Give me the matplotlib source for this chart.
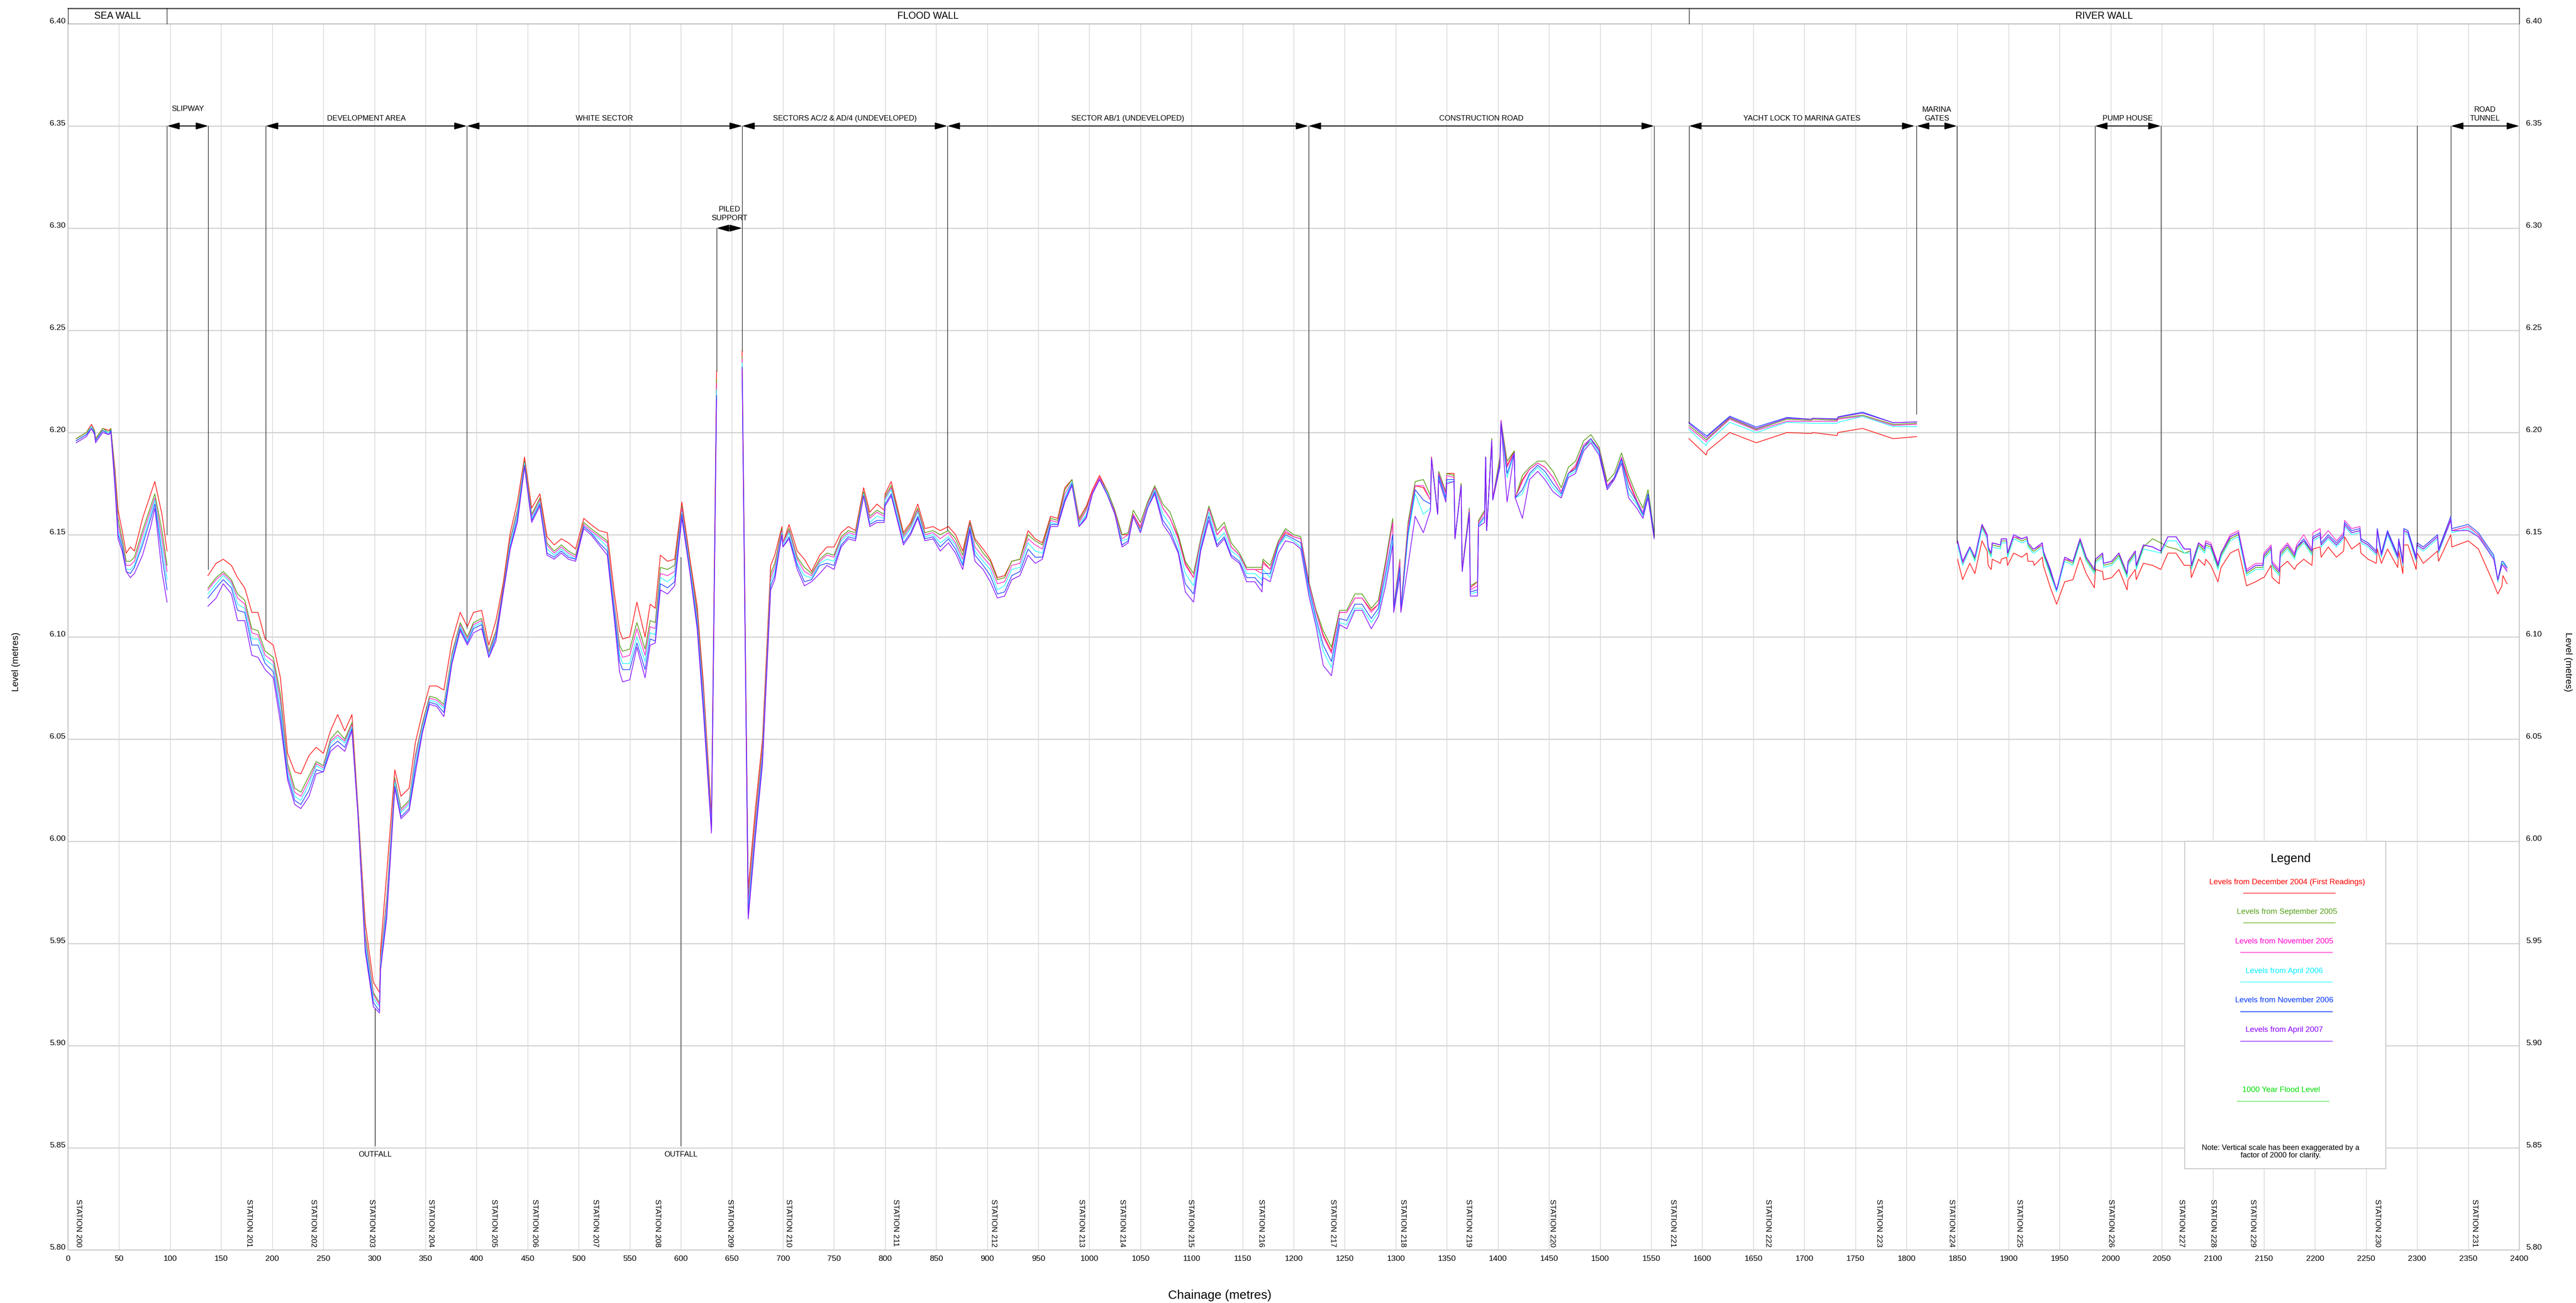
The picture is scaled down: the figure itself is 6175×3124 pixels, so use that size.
import numpy as np
import matplotlib
matplotlib.use("Agg")
import matplotlib.pyplot as plt
from matplotlib.patches import Rectangle
from matplotlib.transforms import ScaledTranslation

plt.rcParams['font.family'] = ['Liberation Sans', 'DejaVu Sans']

### Data ###
# survey labels / colours
surveys = ['Levels from December 2004 (First Readings)', 'Levels from September 2005',
           'Levels from November 2005', 'Levels from April 2006',
           'Levels from November 2006', 'Levels from April 2007']
line_colors = ['#ff2020', '#5a9e1a', '#ff33cc', '#33ffff', '#2a50ff', '#8c1aff']
text_colors = ['#ff0000', '#55a01a', '#ff00cc', '#00eeff', '#0033ff', '#8800ff']
legend_line_colors = ['#ff6666', '#99cc66', '#ff66dd', '#77ffff', '#4466ff', '#b366ff']

# segment A: sea wall
a_ch = [8, 18, 23, 26, 27, 34, 40, 42, 46, 49, 53, 57, 61, 65, 73, 81, 85, 92, 97]
a_dec04 = [6.197, 6.200, 6.204, 6.201, 6.197, 6.202, 6.201, 6.202, 6.182, 6.162, 6.152, 6.141, 6.144, 6.142, 6.158, 6.170, 6.176, 6.160, 6.142]
a_sep05 = [6.197, 6.200, 6.203, 6.201, 6.197, 6.202, 6.200, 6.202, 6.180, 6.158, 6.148, 6.137, 6.137, 6.139, 6.152, 6.164, 6.170, 6.152, 6.135]
a_nov05 = [6.196, 6.199, 6.203, 6.200, 6.196, 6.201, 6.200, 6.201, 6.178, 6.155, 6.146, 6.135, 6.135, 6.137, 6.150, 6.162, 6.168, 6.148, 6.132]
a_apr06 = [6.196, 6.199, 6.203, 6.200, 6.196, 6.201, 6.200, 6.201, 6.176, 6.152, 6.145, 6.133, 6.133, 6.135, 6.147, 6.160, 6.167, 6.144, 6.128]
a_nov06 = [6.196, 6.199, 6.202, 6.200, 6.196, 6.201, 6.199, 6.201, 6.175, 6.150, 6.144, 6.132, 6.131, 6.134, 6.145, 6.158, 6.165, 6.140, 6.123]
a_apr07 = [6.195, 6.198, 6.202, 6.199, 6.195, 6.200, 6.199, 6.200, 6.173, 6.148, 6.142, 6.132, 6.129, 6.131, 6.140, 6.154, 6.163, 6.132, 6.117]

# segment B: slipway to piled support
b_ch = [137, 145, 152, 160, 166, 173, 180, 186, 193, 201,
        208, 215, 222, 228, 236, 243, 250, 257, 264, 271,
        278, 284, 291, 299, 305, 306, 312, 320, 326, 334,
        340, 347, 354, 361, 368, 376, 384, 391, 397, 405,
        412, 419, 426, 433, 440, 447, 454, 462, 469, 476,
        483, 490, 497, 505, 512, 520, 528, 535, 540, 543,
        550, 557, 565, 570, 575, 580, 587, 594, 601, 609,
        616, 622, 630, 635]
b_dec04 = [6.130, 6.136, 6.138, 6.135, 6.129, 6.124, 6.112, 6.112, 6.099, 6.096,
           6.080, 6.043, 6.034, 6.033, 6.042, 6.046, 6.043, 6.054, 6.062, 6.054,
           6.062, 6.016, 5.960, 5.931, 5.926, 5.947, 5.984, 6.035, 6.022, 6.026,
           6.048, 6.063, 6.076, 6.076, 6.074, 6.098, 6.112, 6.105, 6.112, 6.113,
           6.096, 6.108, 6.126, 6.151, 6.166, 6.188, 6.163, 6.170, 6.149, 6.145,
           6.148, 6.146, 6.143, 6.158, 6.155, 6.152, 6.151, 6.121, 6.103, 6.099,
           6.100, 6.117, 6.100, 6.116, 6.114, 6.140, 6.137, 6.138, 6.166, 6.138,
           6.115, 6.078, 6.013, 6.230]
b_sep05 = [6.124, 6.129, 6.132, 6.128, 6.121, 6.118, 6.104, 6.103, 6.093, 6.090,
           6.072, 6.038, 6.026, 6.024, 6.032, 6.039, 6.037, 6.050, 6.054, 6.050,
           6.058, 6.015, 5.955, 5.926, 5.921, 5.943, 5.972, 6.031, 6.016, 6.020,
           6.042, 6.058, 6.071, 6.070, 6.067, 6.092, 6.107, 6.100, 6.107, 6.109,
           6.093, 6.103, 6.124, 6.148, 6.162, 6.186, 6.160, 6.168, 6.146, 6.142,
           6.145, 6.142, 6.140, 6.156, 6.153, 6.150, 6.147, 6.116, 6.096, 6.093,
           6.094, 6.107, 6.094, 6.108, 6.107, 6.134, 6.133, 6.135, 6.164, 6.136,
           6.112, 6.075, 6.010, 6.226]
b_nov05 = [6.123, 6.128, 6.131, 6.127, 6.119, 6.116, 6.102, 6.101, 6.091, 6.088,
           6.069, 6.036, 6.024, 6.022, 6.030, 6.038, 6.036, 6.049, 6.052, 6.049,
           6.057, 6.014, 5.953, 5.925, 5.920, 5.942, 5.970, 6.030, 6.015, 6.019,
           6.041, 6.057, 6.070, 6.069, 6.066, 6.091, 6.106, 6.099, 6.106, 6.108,
           6.092, 6.102, 6.123, 6.147, 6.161, 6.185, 6.159, 6.167, 6.145, 6.141,
           6.144, 6.141, 6.139, 6.155, 6.152, 6.149, 6.146, 6.115, 6.094, 6.090,
           6.091, 6.104, 6.091, 6.105, 6.104, 6.131, 6.130, 6.132, 6.163, 6.135,
           6.110, 6.073, 6.009, 6.224]
b_apr06 = [6.121, 6.126, 6.130, 6.126, 6.116, 6.114, 6.099, 6.099, 6.089, 6.086,
           6.066, 6.034, 6.022, 6.020, 6.028, 6.037, 6.035, 6.048, 6.051, 6.048,
           6.056, 6.013, 5.951, 5.923, 5.919, 5.940, 5.967, 6.029, 6.014, 6.018,
           6.039, 6.056, 6.069, 6.068, 6.065, 6.090, 6.105, 6.098, 6.105, 6.107,
           6.091, 6.101, 6.122, 6.146, 6.160, 6.185, 6.158, 6.166, 6.143, 6.140,
           6.143, 6.140, 6.138, 6.154, 6.151, 6.148, 6.144, 6.113, 6.091, 6.087,
           6.087, 6.100, 6.088, 6.102, 6.101, 6.129, 6.127, 6.130, 6.161, 6.134,
           6.108, 6.070, 6.007, 6.221]
b_nov06 = [6.119, 6.124, 6.128, 6.124, 6.113, 6.112, 6.096, 6.096, 6.087, 6.083,
           6.062, 6.032, 6.020, 6.018, 6.025, 6.035, 6.034, 6.046, 6.049, 6.046,
           6.055, 6.012, 5.948, 5.921, 5.917, 5.938, 5.964, 6.027, 6.012, 6.016,
           6.036, 6.054, 6.068, 6.067, 6.063, 6.088, 6.104, 6.097, 6.104, 6.106,
           6.090, 6.100, 6.122, 6.144, 6.158, 6.184, 6.157, 6.165, 6.141, 6.139,
           6.142, 6.139, 6.138, 6.154, 6.151, 6.146, 6.142, 6.111, 6.088, 6.084,
           6.084, 6.097, 6.084, 6.099, 6.098, 6.126, 6.124, 6.127, 6.160, 6.132,
           6.106, 6.067, 6.006, 6.218]
b_apr07 = [6.115, 6.119, 6.126, 6.121, 6.108, 6.108, 6.091, 6.090, 6.084, 6.080,
           6.058, 6.030, 6.018, 6.016, 6.022, 6.033, 6.034, 6.044, 6.047, 6.044,
           6.054, 6.012, 5.946, 5.919, 5.916, 5.937, 5.962, 6.026, 6.011, 6.015,
           6.033, 6.053, 6.067, 6.066, 6.061, 6.087, 6.103, 6.096, 6.102, 6.104,
           6.090, 6.098, 6.121, 6.143, 6.156, 6.183, 6.156, 6.164, 6.140, 6.138,
           6.141, 6.138, 6.137, 6.153, 6.150, 6.145, 6.140, 6.108, 6.083, 6.078,
           6.079, 6.095, 6.080, 6.096, 6.097, 6.123, 6.121, 6.125, 6.158, 6.131,
           6.104, 6.064, 6.004, 6.216]

# segment C: piled support to construction road end
c_ch = [660, 666, 673, 680, 688, 692, 699, 700, 706, 714,
        721, 728, 736, 743, 750, 757, 764, 771, 779, 785,
        792, 799, 800, 806, 818, 825, 832, 839, 847, 854,
        862, 869, 876, 883, 888, 896, 903, 910, 917, 924,
        932, 940, 947, 954, 962, 969, 976, 983, 990, 997,
        1003, 1010, 1018, 1025, 1032, 1038, 1043, 1050, 1057, 1064,
        1072, 1079, 1087, 1094, 1102, 1109, 1117, 1125, 1132, 1139,
        1147, 1154, 1162, 1169, 1170, 1177, 1185, 1192, 1200, 1207,
        1215, 1222, 1229, 1237, 1245, 1252, 1260, 1267, 1276, 1283,
        1290, 1297, 1298, 1304, 1305, 1312, 1319, 1327, 1334, 1335,
        1341, 1342, 1349, 1350, 1357, 1358, 1364, 1365, 1372, 1373,
        1380, 1381, 1387, 1388, 1389, 1394, 1395, 1402, 1403, 1409,
        1416, 1417, 1424, 1431, 1439, 1446, 1454, 1462, 1469, 1476,
        1484, 1491, 1499, 1507, 1514, 1521, 1528, 1536, 1542, 1547,
        1553]
c_dec04 = [6.240, 5.977, 6.016, 6.050, 6.135, 6.140, 6.154, 6.146, 6.155, 6.142,
           6.138, 6.132, 6.140, 6.144, 6.144, 6.151, 6.154, 6.152, 6.173, 6.161,
           6.165, 6.162, 6.170, 6.176, 6.151, 6.156, 6.165, 6.153, 6.154, 6.152,
           6.154, 6.150, 6.142, 6.157, 6.148, 6.143, 6.138, 6.129, 6.130, 6.137,
           6.138, 6.152, 6.148, 6.146, 6.159, 6.158, 6.173, 6.177, 6.158, 6.164,
           6.172, 6.179, 6.171, 6.161, 6.150, 6.150, 6.160, 6.153, 6.165, 6.173,
           6.163, 6.158, 6.149, 6.136, 6.129, 6.147, 6.163, 6.150, 6.154, 6.144,
           6.140, 6.133, 6.133, 6.133, 6.137, 6.133, 6.146, 6.151, 6.149, 6.148,
           6.126, 6.112, 6.101, 6.093, 6.112, 6.112, 6.119, 6.119, 6.113, 6.116,
           6.135, 6.156, 6.114, 6.137, 6.114, 6.154, 6.174, 6.173, 6.167, 6.188,
           6.160, 6.180, 6.170, 6.180, 6.180, 6.148, 6.175, 6.133, 6.162, 6.124,
           6.127, 6.156, 6.161, 6.188, 6.152, 6.197, 6.168, 6.187, 6.206, 6.184,
           6.191, 6.168, 6.177, 6.182, 6.185, 6.183, 6.178, 6.171, 6.180, 6.183,
           6.193, 6.196, 6.192, 6.174, 6.177, 6.187, 6.176, 6.166, 6.159, 6.169,
           6.149]
c_sep05 = [6.237, 5.972, 6.011, 6.046, 6.131, 6.136, 6.153, 6.146, 6.153, 6.139,
           6.134, 6.131, 6.138, 6.141, 6.140, 6.149, 6.152, 6.151, 6.171, 6.159,
           6.162, 6.160, 6.169, 6.174, 6.150, 6.155, 6.163, 6.151, 6.152, 6.150,
           6.152, 6.148, 6.140, 6.156, 6.147, 6.141, 6.137, 6.128, 6.129, 6.137,
           6.138, 6.150, 6.147, 6.145, 6.158, 6.157, 6.172, 6.177, 6.157, 6.163,
           6.171, 6.178, 6.171, 6.162, 6.150, 6.151, 6.162, 6.156, 6.166, 6.174,
           6.165, 6.161, 6.150, 6.137, 6.131, 6.148, 6.164, 6.152, 6.156, 6.146,
           6.141, 6.134, 6.134, 6.134, 6.138, 6.135, 6.147, 6.153, 6.150, 6.149,
           6.127, 6.113, 6.103, 6.095, 6.113, 6.113, 6.121, 6.121, 6.114, 6.118,
           6.137, 6.158, 6.115, 6.138, 6.114, 6.156, 6.176, 6.177, 6.169, 6.188,
           6.161, 6.181, 6.171, 6.180, 6.179, 6.148, 6.175, 6.132, 6.163, 6.125,
           6.127, 6.157, 6.162, 6.188, 6.152, 6.197, 6.168, 6.188, 6.206, 6.186,
           6.191, 6.168, 6.179, 6.183, 6.186, 6.186, 6.181, 6.173, 6.183, 6.186,
           6.196, 6.199, 6.193, 6.176, 6.180, 6.190, 6.179, 6.169, 6.163, 6.172,
           6.151]
c_nov05 = [6.236, 5.970, 6.009, 6.044, 6.129, 6.134, 6.152, 6.146, 6.152, 6.138,
           6.132, 6.130, 6.137, 6.140, 6.139, 6.148, 6.151, 6.150, 6.170, 6.158,
           6.161, 6.159, 6.168, 6.173, 6.149, 6.154, 6.162, 6.150, 6.151, 6.148,
           6.151, 6.146, 6.138, 6.155, 6.144, 6.139, 6.135, 6.126, 6.127, 6.135,
           6.136, 6.148, 6.145, 6.143, 6.157, 6.156, 6.170, 6.176, 6.156, 6.162,
           6.171, 6.178, 6.170, 6.161, 6.148, 6.150, 6.160, 6.154, 6.165, 6.173,
           6.163, 6.158, 6.148, 6.135, 6.129, 6.147, 6.163, 6.150, 6.154, 6.144,
           6.140, 6.133, 6.133, 6.131, 6.136, 6.133, 6.146, 6.152, 6.149, 6.148,
           6.126, 6.112, 6.100, 6.092, 6.112, 6.112, 6.119, 6.119, 6.112, 6.116,
           6.135, 6.156, 6.114, 6.137, 6.114, 6.154, 6.174, 6.174, 6.167, 6.188,
           6.160, 6.180, 6.170, 6.179, 6.178, 6.148, 6.174, 6.132, 6.162, 6.123,
           6.125, 6.156, 6.161, 6.188, 6.152, 6.196, 6.168, 6.186, 6.206, 6.183,
           6.190, 6.168, 6.176, 6.182, 6.185, 6.183, 6.178, 6.171, 6.180, 6.184,
           6.194, 6.197, 6.192, 6.174, 6.178, 6.188, 6.177, 6.167, 6.161, 6.170,
           6.150]
c_apr06 = [6.234, 5.967, 6.006, 6.042, 6.127, 6.132, 6.151, 6.145, 6.151, 6.136,
           6.130, 6.129, 6.136, 6.138, 6.137, 6.147, 6.150, 6.149, 6.170, 6.156,
           6.159, 6.158, 6.167, 6.172, 6.148, 6.153, 6.161, 6.149, 6.150, 6.146,
           6.149, 6.145, 6.136, 6.154, 6.142, 6.137, 6.133, 6.123, 6.125, 6.133,
           6.134, 6.146, 6.142, 6.141, 6.156, 6.155, 6.168, 6.176, 6.155, 6.160,
           6.170, 6.177, 6.170, 6.160, 6.147, 6.148, 6.159, 6.152, 6.164, 6.172,
           6.160, 6.155, 6.145, 6.131, 6.125, 6.145, 6.161, 6.147, 6.151, 6.142,
           6.139, 6.131, 6.131, 6.128, 6.133, 6.129, 6.144, 6.149, 6.147, 6.144,
           6.122, 6.107, 6.093, 6.085, 6.107, 6.106, 6.114, 6.114, 6.107, 6.112,
           6.128, 6.147, 6.113, 6.132, 6.113, 6.149, 6.170, 6.160, 6.163, 6.187,
           6.160, 6.178, 6.167, 6.176, 6.176, 6.148, 6.174, 6.132, 6.160, 6.121,
           6.122, 6.154, 6.158, 6.188, 6.152, 6.196, 6.167, 6.184, 6.205, 6.178,
           6.190, 6.168, 6.170, 6.179, 6.183, 6.179, 6.173, 6.169, 6.179, 6.181,
           6.192, 6.196, 6.190, 6.172, 6.177, 6.186, 6.170, 6.165, 6.159, 6.169,
           6.149]
c_nov06 = [6.232, 5.964, 6.004, 6.040, 6.125, 6.130, 6.150, 6.144, 6.149, 6.135,
           6.127, 6.128, 6.135, 6.136, 6.135, 6.145, 6.149, 6.148, 6.169, 6.155,
           6.157, 6.157, 6.165, 6.170, 6.146, 6.151, 6.159, 6.148, 6.149, 6.144,
           6.148, 6.143, 6.135, 6.153, 6.140, 6.135, 6.130, 6.121, 6.122, 6.130,
           6.132, 6.143, 6.139, 6.139, 6.155, 6.155, 6.167, 6.175, 6.154, 6.159,
           6.170, 6.177, 6.169, 6.160, 6.145, 6.147, 6.159, 6.151, 6.163, 6.171,
           6.157, 6.152, 6.142, 6.126, 6.121, 6.143, 6.159, 6.145, 6.149, 6.140,
           6.137, 6.129, 6.129, 6.125, 6.131, 6.131, 6.145, 6.150, 6.148, 6.146,
           6.124, 6.109, 6.096, 6.088, 6.109, 6.108, 6.116, 6.116, 6.109, 6.114,
           6.131, 6.150, 6.114, 6.134, 6.113, 6.151, 6.172, 6.167, 6.165, 6.187,
           6.160, 6.179, 6.168, 6.177, 6.177, 6.148, 6.174, 6.132, 6.161, 6.122,
           6.123, 6.155, 6.159, 6.188, 6.152, 6.196, 6.167, 6.185, 6.205, 6.180,
           6.190, 6.168, 6.172, 6.180, 6.184, 6.181, 6.175, 6.170, 6.180, 6.182,
           6.193, 6.197, 6.191, 6.173, 6.178, 6.187, 6.173, 6.166, 6.160, 6.170,
           6.150]
c_apr07 = [6.231, 5.962, 6.002, 6.038, 6.123, 6.128, 6.150, 6.144, 6.148, 6.133,
           6.125, 6.127, 6.131, 6.135, 6.133, 6.144, 6.148, 6.147, 6.169, 6.154,
           6.156, 6.156, 6.164, 6.169, 6.145, 6.150, 6.158, 6.147, 6.148, 6.142,
           6.146, 6.141, 6.133, 6.152, 6.137, 6.133, 6.127, 6.119, 6.120, 6.128,
           6.130, 6.140, 6.136, 6.138, 6.154, 6.154, 6.166, 6.174, 6.154, 6.158,
           6.170, 6.177, 6.169, 6.160, 6.144, 6.146, 6.159, 6.151, 6.163, 6.170,
           6.155, 6.150, 6.141, 6.122, 6.117, 6.142, 6.157, 6.144, 6.148, 6.139,
           6.136, 6.127, 6.127, 6.122, 6.129, 6.127, 6.141, 6.147, 6.146, 6.143,
           6.120, 6.105, 6.086, 6.081, 6.106, 6.104, 6.113, 6.113, 6.104, 6.110,
           6.125, 6.145, 6.112, 6.130, 6.112, 6.135, 6.159, 6.151, 6.162, 6.187,
           6.160, 6.177, 6.166, 6.175, 6.176, 6.148, 6.174, 6.132, 6.160, 6.120,
           6.120, 6.154, 6.156, 6.188, 6.152, 6.196, 6.167, 6.183, 6.205, 6.166,
           6.190, 6.168, 6.158, 6.177, 6.181, 6.177, 6.171, 6.168, 6.178, 6.180,
           6.191, 6.195, 6.189, 6.172, 6.177, 6.185, 6.168, 6.163, 6.158, 6.168,
           6.148]

# segment D: yacht lock to marina gates
d_ch = [1587, 1604, 1605, 1627, 1653, 1683, 1707, 1708, 1732, 1733, 1757, 1787, 1810]
d_dec04 = [6.197, 6.189, 6.191, 6.200, 6.195, 6.200, 6.1995, 6.200, 6.1985, 6.200, 6.202, 6.197, 6.198]
d_sep05 = [6.2035, 6.1965, 6.197, 6.207, 6.2015, 6.2065, 6.206, 6.2065, 6.206, 6.207, 6.2085, 6.204, 6.2045]
d_nov05 = [6.2025, 6.1955, 6.1965, 6.2065, 6.201, 6.2055, 6.2055, 6.2055, 6.2055, 6.2065, 6.208, 6.2035, 6.204]
d_apr06 = [6.2015, 6.1935, 6.195, 6.205, 6.200, 6.205, 6.2045, 6.2045, 6.2045, 6.205, 6.2079, 6.2029, 6.2029]
d_nov06 = [6.205, 6.1985, 6.1985, 6.208, 6.2027, 6.2074, 6.2065, 6.207, 6.2067, 6.2077, 6.210, 6.2048, 6.2052]
d_apr07 = [6.2045, 6.1975, 6.198, 6.2075, 6.202, 6.207, 6.2065, 6.207, 6.2065, 6.2075, 6.2095, 6.2048, 6.2052]

# segment E: marina gates to road tunnel
e_ch = [1850, 1855, 1862, 1867, 1874, 1879, 1880, 1883, 1884, 1892,
        1893, 1898, 1899, 1905, 1913, 1918, 1919, 1924, 1925, 1933,
        1934, 1941, 1947, 1955, 1963, 1970, 1976, 1984, 1985, 1992,
        1993, 2001, 2008, 2016, 2017, 2024, 2025, 2032, 2041, 2049,
        2056, 2064, 2072, 2078, 2079, 2086, 2092, 2093, 2098, 2105,
        2108, 2117, 2125, 2133, 2142, 2149, 2150, 2157, 2158, 2165,
        2166, 2173, 2180, 2182, 2189, 2197, 2198, 2205, 2206, 2213,
        2221, 2228, 2229, 2236, 2244, 2245, 2252, 2260, 2261, 2265,
        2271, 2281, 2282, 2286, 2287, 2291, 2299, 2300, 2306, 2320,
        2321, 2333, 2334, 2350, 2360, 2375, 2379, 2383, 2384, 2388]
e_dec04 = [6.138, 6.128, 6.136, 6.131, 6.147, 6.142, 6.135, 6.133, 6.138, 6.136,
           6.138, 6.139, 6.135, 6.141, 6.139, 6.141, 6.137, 6.137, 6.135, 6.139,
           6.135, 6.124, 6.116, 6.127, 6.128, 6.139, 6.131, 6.124, 6.133, 6.132,
           6.128, 6.129, 6.133, 6.123, 6.128, 6.133, 6.128, 6.136, 6.135, 6.133,
           6.141, 6.141, 6.135, 6.135, 6.129, 6.138, 6.135, 6.138, 6.135, 6.127,
           6.134, 6.141, 6.143, 6.125, 6.127, 6.129, 6.129, 6.135, 6.129, 6.126,
           6.134, 6.137, 6.133, 6.135, 6.138, 6.135, 6.143, 6.144, 6.139, 6.144,
           6.139, 6.142, 6.149, 6.143, 6.146, 6.141, 6.138, 6.136, 6.143, 6.136,
           6.143, 6.134, 6.142, 6.131, 6.145, 6.145, 6.133, 6.141, 6.136, 6.142,
           6.137, 6.150, 6.144, 6.147, 6.143, 6.126, 6.121, 6.125, 6.130, 6.126]
e_sep05 = [6.146, 6.136, 6.143, 6.138, 6.154, 6.149, 6.143, 6.140, 6.145, 6.144,
           6.147, 6.147, 6.140, 6.149, 6.147, 6.148, 6.145, 6.142, 6.142, 6.145,
           6.141, 6.131, 6.123, 6.138, 6.136, 6.147, 6.138, 6.132, 6.137, 6.140,
           6.135, 6.136, 6.140, 6.130, 6.136, 6.141, 6.134, 6.144, 6.148, 6.146,
           6.144, 6.143, 6.141, 6.142, 6.134, 6.145, 6.142, 6.145, 6.144, 6.134,
           6.140, 6.148, 6.150, 6.131, 6.134, 6.134, 6.139, 6.143, 6.135, 6.131,
           6.140, 6.144, 6.139, 6.143, 6.147, 6.141, 6.148, 6.150, 6.145, 6.149,
           6.145, 6.149, 6.155, 6.151, 6.152, 6.147, 6.145, 6.141, 6.152, 6.140,
           6.151, 6.139, 6.147, 6.136, 6.152, 6.151, 6.138, 6.145, 6.143, 6.149,
           6.142, 6.158, 6.152, 6.154, 6.150, 6.139, 6.127, 6.135, 6.136, 6.134]
e_nov05 = [6.146, 6.136, 6.144, 6.139, 6.155, 6.149, 6.144, 6.141, 6.146, 6.145,
           6.148, 6.148, 6.141, 6.149, 6.148, 6.149, 6.146, 6.143, 6.143, 6.145,
           6.142, 6.132, 6.123, 6.138, 6.137, 6.148, 6.139, 6.133, 6.138, 6.141,
           6.136, 6.137, 6.141, 6.131, 6.137, 6.142, 6.135, 6.145, 6.144, 6.142,
           6.149, 6.149, 6.143, 6.143, 6.135, 6.146, 6.144, 6.147, 6.146, 6.136,
           6.141, 6.150, 6.152, 6.133, 6.136, 6.136, 6.141, 6.145, 6.137, 6.133,
           6.142, 6.146, 6.141, 6.145, 6.150, 6.143, 6.151, 6.153, 6.148, 6.152,
           6.147, 6.151, 6.157, 6.153, 6.154, 6.148, 6.146, 6.142, 6.153, 6.141,
           6.152, 6.140, 6.148, 6.137, 6.153, 6.152, 6.139, 6.146, 6.144, 6.150,
           6.143, 6.158, 6.152, 6.154, 6.150, 6.139, 6.127, 6.136, 6.136, 6.133]
e_apr06 = [6.145, 6.135, 6.143, 6.137, 6.153, 6.148, 6.142, 6.139, 6.144, 6.143,
           6.146, 6.146, 6.139, 6.148, 6.146, 6.147, 6.144, 6.141, 6.141, 6.144,
           6.140, 6.130, 6.122, 6.137, 6.135, 6.146, 6.137, 6.131, 6.136, 6.139,
           6.134, 6.135, 6.139, 6.129, 6.135, 6.140, 6.133, 6.143, 6.142, 6.141,
           6.147, 6.147, 6.141, 6.141, 6.133, 6.144, 6.141, 6.144, 6.143, 6.133,
           6.139, 6.147, 6.149, 6.130, 6.133, 6.133, 6.138, 6.142, 6.134, 6.130,
           6.139, 6.143, 6.138, 6.142, 6.146, 6.140, 6.147, 6.149, 6.144, 6.148,
           6.144, 6.148, 6.154, 6.150, 6.151, 6.146, 6.144, 6.140, 6.151, 6.139,
           6.150, 6.138, 6.146, 6.135, 6.151, 6.150, 6.137, 6.144, 6.142, 6.148,
           6.141, 6.157, 6.151, 6.153, 6.149, 6.139, 6.127, 6.136, 6.136, 6.134]
e_nov06 = [6.147, 6.137, 6.144, 6.139, 6.155, 6.150, 6.144, 6.141, 6.146, 6.145,
           6.148, 6.148, 6.141, 6.150, 6.148, 6.149, 6.146, 6.143, 6.143, 6.146,
           6.142, 6.132, 6.123, 6.139, 6.137, 6.148, 6.139, 6.133, 6.138, 6.141,
           6.136, 6.137, 6.141, 6.131, 6.137, 6.142, 6.135, 6.145, 6.144, 6.142,
           6.149, 6.149, 6.143, 6.143, 6.135, 6.146, 6.143, 6.146, 6.145, 6.135,
           6.141, 6.149, 6.151, 6.132, 6.135, 6.135, 6.140, 6.144, 6.136, 6.132,
           6.141, 6.145, 6.140, 6.144, 6.148, 6.142, 6.149, 6.151, 6.146, 6.150,
           6.146, 6.150, 6.156, 6.152, 6.153, 6.148, 6.146, 6.142, 6.153, 6.141,
           6.152, 6.140, 6.148, 6.137, 6.153, 6.152, 6.139, 6.146, 6.144, 6.150,
           6.143, 6.159, 6.153, 6.155, 6.151, 6.140, 6.128, 6.137, 6.137, 6.134]
e_apr07 = [6.147, 6.137, 6.144, 6.139, 6.155, 6.150, 6.144, 6.141, 6.146, 6.145,
           6.148, 6.148, 6.141, 6.150, 6.148, 6.149, 6.146, 6.143, 6.143, 6.146,
           6.142, 6.133, 6.123, 6.139, 6.137, 6.148, 6.139, 6.133, 6.138, 6.141,
           6.136, 6.137, 6.141, 6.131, 6.137, 6.142, 6.135, 6.145, 6.144, 6.142,
           6.149, 6.149, 6.143, 6.143, 6.135, 6.146, 6.143, 6.146, 6.145, 6.135,
           6.141, 6.149, 6.151, 6.132, 6.135, 6.135, 6.140, 6.144, 6.136, 6.132,
           6.141, 6.145, 6.140, 6.144, 6.147, 6.142, 6.148, 6.150, 6.145, 6.149,
           6.145, 6.149, 6.155, 6.151, 6.152, 6.147, 6.145, 6.141, 6.152, 6.140,
           6.151, 6.139, 6.147, 6.136, 6.152, 6.151, 6.138, 6.145, 6.143, 6.149,
           6.142, 6.157, 6.152, 6.152, 6.149, 6.138, 6.128, 6.135, 6.135, 6.132]

flood_level = 6.20

# wall zones along the header
zone_names = ['SEA WALL', 'FLOOD WALL', 'RIVER WALL']
zone_edges = [0, 97, 1587, 2400]

# sectors marked with dimension arrows
sector_names = ['SLIPWAY', 'DEVELOPMENT AREA', 'WHITE SECTOR', 'SECTORS AC/2 & AD/4 (UNDEVELOPED)',
                'SECTOR AB/1 (UNDEVELOPED)', 'CONSTRUCTION ROAD', 'YACHT LOCK TO MARINA GATES',
                'MARINA\nGATES', 'PUMP HOUSE', 'ROAD\nTUNNEL']
sector_start = [97, 193.5, 390.5, 660, 861, 1214.5, 1587, 1810, 1984.5, 2333]
sector_end = [137.4, 390.5, 660, 861, 1214.5, 1553, 1808, 1849.5, 2049, 2400]

# vertical marker lines: chainage, bottom level, top level
marker_x = [97, 137.4, 193.5, 390.5, 635, 660, 861, 1214.5, 1553, 1587, 1810, 1849.5, 1984.5, 2049, 2300, 2333, 300.5, 600]
marker_lo = [6.150, 6.133, 6.099, 6.104, 6.230, 6.240, 6.152, 6.127, 6.149, 6.205, 6.209, 6.146, 6.132, 6.141, 6.144, 6.159, 5.851, 5.851]
marker_hi = [6.35, 6.35, 6.35, 6.35, 6.30, 6.35, 6.35, 6.35, 6.35, 6.35, 6.35, 6.35, 6.35, 6.35, 6.35, 6.35, 5.918, 6.139]

outfall_x = [300.5, 600]

station_names = ['STATION %d' % n for n in range(200, 232)]
station_x = [10, 177, 240, 297, 355, 417, 457, 516, 577, 648, 705, 810, 906, 992, 1032, 1099,
             1168, 1238, 1307, 1371, 1453, 1571, 1664, 1773, 1844, 1910, 2000, 2069, 2100, 2139, 2261, 2356]

### Assemble series (NaN between the wall segments) ###
segments = [
    (a_ch, [a_dec04, a_sep05, a_nov05, a_apr06, a_nov06, a_apr07]),
    (b_ch, [b_dec04, b_sep05, b_nov05, b_apr06, b_nov06, b_apr07]),
    (c_ch, [c_dec04, c_sep05, c_nov05, c_apr06, c_nov06, c_apr07]),
    (d_ch, [d_dec04, d_sep05, d_nov05, d_apr06, d_nov06, d_apr07]),
    (e_ch, [e_dec04, e_sep05, e_nov05, e_apr06, e_nov06, e_apr07]),
]
chainage = []
levels = [[] for _ in surveys]
for ch, series in segments:
    chainage += list(ch) + [np.nan]
    for k, s in enumerate(series):
        levels[k] += list(s) + [np.nan]

### Plotting ###
fig = plt.figure(figsize=(61.75, 31.24), dpi=100)
ax = fig.add_axes([0.026397, 0.040653, 0.951579, 0.941101])

ax.set_xlim(0, 2400)
ax.set_ylim(5.80, 6.40)
ax.set_xticks(np.arange(0, 2401, 50))
yt = np.arange(5.80, 6.4001, 0.05)
ax.set_yticks(yt)
ax.set_yticklabels(['%.2f' % v for v in yt])
ax.tick_params(axis='x', length=0, labelsize=14, pad=9)
ax.tick_params(axis='y', length=0, labelsize=14, labelleft=True, labelright=True, pad=4.5)
# labels sit slightly above their gridlines; right-hand labels further out
lift = ScaledTranslation(0, 0.08, fig.dpi_scale_trans)
for t in ax.yaxis.get_major_ticks():
    t.label1.set_transform(t.label1.get_transform() + lift)
    t.label2.set_transform(t.label2.get_transform() + lift
                           + ScaledTranslation(0.1, 0, fig.dpi_scale_trans))

ax.grid(axis='x', color='#d0d0d0', lw=1.0, zorder=0)
ax.grid(axis='y', color='#d4d4d4', lw=2.0, zorder=0)
for sp in ax.spines.values():
    sp.set_color('#c0c0c0')
    sp.set_linewidth(1.5)

ax.axhline(flood_level, color='#90ee90', lw=1.6, zorder=1)

for k in range(len(surveys)):
    ax.plot(chainage, levels[k], color=line_colors[k], lw=1.3, zorder=3)

# header band with wall zones
htop = 6.40 + 37 / 4900.0
ax.plot([0, 2400], [htop, htop], color='#444444', lw=2.0, clip_on=False, zorder=5)
for xe in zone_edges:
    ax.plot([xe, xe], [6.40, htop], color='black', lw=0.9, clip_on=False, zorder=5)
for name, x0, x1 in zip(zone_names, zone_edges[:-1], zone_edges[1:]):
    ax.text((x0 + x1) / 2, (6.40 + htop) / 2, name, ha='center', va='center',
            fontsize=16.5, clip_on=False)

# vertical marker lines
for x, lo, hi in zip(marker_x, marker_lo, marker_hi):
    ax.plot([x, x], [lo, hi], color='black', lw=0.9, zorder=4)

# sector dimension arrows
arrow_style = '<|-|>,head_length=1.0,head_width=0.28'
for name, x0, x1 in zip(sector_names, sector_start, sector_end):
    ax.annotate('', xy=(x1, 6.35), xytext=(x0, 6.35),
                arrowprops=dict(arrowstyle=arrow_style, color='black', lw=1.6,
                                mutation_scale=18, shrinkA=0, shrinkB=0), zorder=5)
    ty = 6.3566 if name == 'SLIPWAY' else 6.3519
    ax.text((x0 + x1) / 2, ty, name, ha='center', va='bottom', fontsize=13,
            linespacing=1.3, zorder=5)

# piled support
ax.annotate('', xy=(660, 6.30), xytext=(635, 6.30),
            arrowprops=dict(arrowstyle=arrow_style, color='black', lw=1.6,
                            mutation_scale=18, shrinkA=0, shrinkB=0), zorder=5)
ax.text(647.5, 6.3031, 'PILED\nSUPPORT', ha='center', va='bottom', fontsize=13,
        linespacing=1.3, zorder=5)

for x in outfall_x:
    ax.text(x, 5.8466, 'OUTFALL', ha='center', va='center', fontsize=13, zorder=5)

for name, x in zip(station_names, station_x):
    ax.text(x, 5.8249, name, rotation=270, ha='center', va='top', fontsize=13.5, zorder=5)

# legend box
ax.add_patch(Rectangle((2072.3, 5.8397), 196.9, 0.1603, facecolor='white',
                       edgecolor='#c8c8c8', lw=1.6, zorder=6))
ax.text(2176.2, 5.9915, 'Legend', ha='center', va='center', fontsize=21, zorder=7)
for k, name in enumerate(surveys):
    ty = 5.9799 - k * 0.01446
    xc = 2172.7 if k < 2 else 2169.8
    ax.text(xc, ty, name, ha='center', va='center', fontsize=13.5,
            color=text_colors[k], zorder=7)
    ax.plot([xc - 42.8, xc + 46.8], [ty - 0.0053, ty - 0.0053], color=legend_line_colors[k],
            lw=1.8, zorder=7)
ax.text(2166.9, 5.8782, '1000 Year Flood Level', ha='center', va='center', fontsize=13.5,
        color='#00dd00', zorder=7)
ax.plot([2124, 2213.5], [5.8729, 5.8729], color='#88ee88', lw=1.8, zorder=7)
ax.text(2166.5, 5.848, 'Note: Vertical scale has been exaggerated by a\nfactor of 2000 for clarity.',
        ha='center', va='center', fontsize=13, zorder=7, linespacing=1.1)

fig.text(0.4735, 0.0058, 'Chainage (metres)', ha='center', va='center', fontsize=21.5)
fig.text(0.0063, 0.492, 'Level (metres)', ha='center', va='center', fontsize=16, rotation=90)
fig.text(0.9968, 0.492, 'Level (metres)', ha='center', va='center', fontsize=16, rotation=270)

fig.savefig('out.png', dpi=100)
